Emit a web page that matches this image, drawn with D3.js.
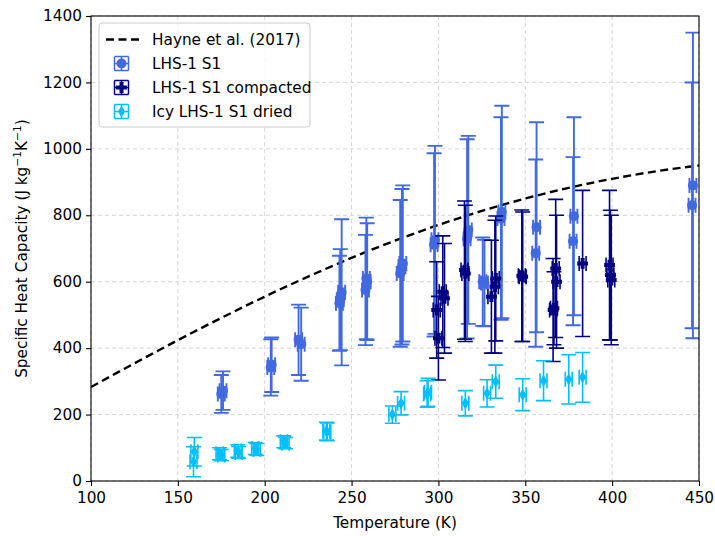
<!DOCTYPE html>
<html><head><meta charset="utf-8">
<script src="https://cdn.jsdelivr.net/npm/d3@7"></script>
<style>body{margin:0;background:#fff}svg{display:block}text{font-family:"DejaVu Sans",sans-serif}</style>
</head><body><svg id="c" width="715" height="536"></svg>
<script>
// Hayne et al. (2017) model curve, values read at 25 K steps
const hayneT = [100,125,150,175,200,225,250,275,300,325,350,375,400,425,450];
const hayneC = [282.9,354.3,423.9,491.0,555.0,615.4,671.8,723.7,770.9,813.1,850.4,882.6,909.8,932.2,949.8];

// LHS-1 S1
const s1T = [175,176,203.5,204,219.5,221,243,243.5,244.3,258,258.5,259,278,279,279.5,297.5,298,316.5,317.2,325.5,326.5,336,336.5,356,356.5,377.5,378,446,446.5];
const s1V = [262,272,342,350,425,412,535,546,568,575,610,600,625,645,655,711,726,729,756,600,596,790,810,686,764,722,797,830,890];
const s1E = [57,58,85,82,106,110,143,152,220,166,183,176,221,234,235,276,283,300,283,133,130,305,320,282,316,253,298,370,460];

// LHS-1 S1 compacted
const s1cT = [299,300,302.5,303.5,315,315.5,330.5,332.5,333,348,348.5,366,366.5,367.5,368,383,398.5,399,399.5];
const s1cV = [515,430,570,550,635,625,555,585,610,618,615,515,520,640,600,655,650,620,605];
const s1cE = [145,126,168,165,208,205,170,200,188,198,195,155,110,208,200,220,225,195,195];

// Icy LHS-1 S1 dried
const icyT = [159,159.5,174,175,184.5,185,194.5,195.5,211,212,235.5,236,273.5,278.5,293.5,294,315.5,328,333,348.5,360.5,375,383];
const icyV = [58,88,82,78,90,86,98,95,118,114,150,148,200,234,262,267,234,264,299,260,302,306,312];
const icyE = [45,43,18,17,19,18,18,18,18,17,27,27,26,35,40,42,38,41,50,48,60,74,75];

const tempErr = 2; // K, temperature uncertainty

const xTicks = [100,150,200,250,300,350,400,450];
const yTicks = [0,200,400,600,800,1000,1200,1400];

const legendLabels = ["Hayne et al. (2017)","LHS-1 S1","LHS-1 S1 compacted","Icy LHS-1 S1 dried"];

const svg = d3.select("#c");
const L=91,R=699,T=16,B=481;
const x = d3.scaleLinear().domain([100,450]).range([L,R]);
const y = d3.scaleLinear().domain([0,1400]).range([B,T]);

// grid
const g = svg.append("g");
g.selectAll("line.gx").data(xTicks).join("line")
 .attr("x1",d=>x(d)).attr("x2",d=>x(d)).attr("y1",T).attr("y2",B)
 .attr("stroke","#d6d6d6").attr("stroke-width",1).attr("stroke-dasharray","4,3");
g.selectAll("line.gy").data(yTicks).join("line")
 .attr("y1",d=>y(d)).attr("y2",d=>y(d)).attr("x1",L).attr("x2",R)
 .attr("stroke","#d6d6d6").attr("stroke-width",1).attr("stroke-dasharray","4,3");

svg.append("clipPath").attr("id","cp").append("rect").attr("x",L).attr("y",T).attr("width",R-L).attr("height",B-T);

// Hayne line
svg.append("path").datum(hayneT.map((t,i)=>[t,hayneC[i]]))
 .attr("d",d3.line().x(d=>x(d[0])).y(d=>y(d[1])).curve(d3.curveMonotoneX))
 .attr("fill","none").attr("stroke","#000").attr("stroke-width",2.4).attr("stroke-dasharray","8,4.5")
 .attr("clip-path","url(#cp)");

const cap = 7.5;
function symbolPath(type, cx, cy){
  if(type==="circle"){ const r=5; return `M${cx-r},${cy}a${r},${r} 0 1,0 ${2*r},0a${r},${r} 0 1,0 ${-2*r},0Z`; }
  if(type==="plus"){ const a=5.4,b=2;
    return `M${cx-b},${cy-a}H${cx+b}V${cy-b}H${cx+a}V${cy+b}H${cx+b}V${cy+a}H${cx-b}V${cy+b}H${cx-a}V${cy-b}H${cx-b}Z`; }
  if(type==="diamond"){ const w=3.6,h=6; return `M${cx},${cy-h}L${cx+w},${cy}L${cx},${cy+h}L${cx-w},${cy}Z`; }
}
function series(Ts,Vs,Es,color,type,sw){
  const gg = svg.append("g").attr("clip-path","url(#cp)");
  const data = Ts.map((t,i)=>({t,v:Vs[i],e:Es[i]}));
  data.forEach(d=>{
    const cx=x(d.t), cy=y(d.v), y1=y(d.v+d.e), y0=y(d.v-d.e);
    const xl=x(d.t-tempErr), xr=x(d.t+tempErr);
    const p = `M${cx},${y1}V${y0}M${cx-cap},${y1}H${cx+cap}M${cx-cap},${y0}H${cx+cap}`+
              `M${xl},${cy}H${xr}M${xl},${cy-cap}V${cy+cap}M${xr},${cy-cap}V${cy+cap}`;
    gg.append("path").attr("d",p).attr("stroke",color).attr("stroke-width",sw).attr("fill","none");
  });
  data.forEach(d=>{
    gg.append("path").attr("d",symbolPath(type,x(d.t),y(d.v))).attr("fill",color);
  });
}
series(s1T,s1V,s1E,"#4169E1","circle",1.9);
series(s1cT,s1cV,s1cE,"#000080","plus",1.6);
series(icyT,icyV,icyE,"#00BFFF","diamond",1.6);

// frame
svg.append("rect").attr("x",L).attr("y",T).attr("width",R-L).attr("height",B-T)
 .attr("fill","none").attr("stroke","#000").attr("stroke-width",1.1);

// axes
const xa = svg.append("g").attr("transform",`translate(0,${B})`)
 .call(d3.axisBottom(x).tickValues(xTicks).tickSize(5).tickPadding(6).tickFormat(d3.format("d")));
const ya = svg.append("g").attr("transform",`translate(${L},0)`)
 .call(d3.axisLeft(y).tickValues(yTicks).tickSize(5).tickPadding(4).tickFormat(d3.format("d")));
[xa,ya].forEach(a=>{a.select(".domain").remove();
  a.selectAll("text").attr("font-size","15.3px").attr("fill","#000").attr("font-family","DejaVu Sans");
  a.selectAll("line").attr("stroke","#000").attr("stroke-width",1.1);});
ya.selectAll("text").attr("dy","0.3em");

svg.append("text").attr("x",(L+R)/2).attr("y",528).attr("text-anchor","middle")
 .attr("font-size","15.3px").text("Temperature (K)");
const yl = svg.append("text").attr("transform",`translate(27,${(T+B)/2}) rotate(-90)`).attr("text-anchor","middle")
 .attr("font-size","15.3px");
yl.append("tspan").text("Specific Heat Capacity (J kg");
yl.append("tspan").attr("dy",-6).attr("font-size","10.7px").text("\u22121");
yl.append("tspan").attr("dy",6).text("K");
yl.append("tspan").attr("dy",-6).attr("font-size","10.7px").text("\u22121");
yl.append("tspan").attr("dy",6).text(")");

// legend
const lg = svg.append("g");
lg.append("rect").attr("x",99).attr("y",23).attr("width",211).attr("height",104).attr("rx",3)
 .attr("fill","#fff").attr("fill-opacity",0.8).attr("stroke","#cccccc").attr("stroke-width",1);
const rowsY=[39.5,63.5,87.5,111.5];
lg.append("line").attr("x1",106).attr("x2",140).attr("y1",rowsY[0]).attr("y2",rowsY[0])
 .attr("stroke","#000").attr("stroke-width",2.4).attr("stroke-dasharray","8,4.5");
const lcols=["#4169E1","#000080","#00BFFF"], ltypes=["circle","plus","diamond"];
for(let i=0;i<3;i++){
  const cx=121.5, cy=rowsY[i+1], h=7;
  lg.append("path").attr("d",`M${cx-h},${cy-h}H${cx+h}M${cx-h},${cy+h}H${cx+h}M${cx-h},${cy-h}V${cy+h}M${cx+h},${cy-h}V${cy+h}M${cx},${cy-h}V${cy+h}M${cx-h},${cy}H${cx+h}`)
    .attr("stroke",lcols[i]).attr("stroke-width",1.5).attr("fill","none");
  lg.append("path").attr("d",symbolPath(ltypes[i],cx,cy)).attr("fill",lcols[i]);
}
legendLabels.forEach((t,i)=>{
  lg.append("text").attr("x",152).attr("y",rowsY[i]+5.5).attr("font-size","15.3px").text(t);
});
</script></body></html>
